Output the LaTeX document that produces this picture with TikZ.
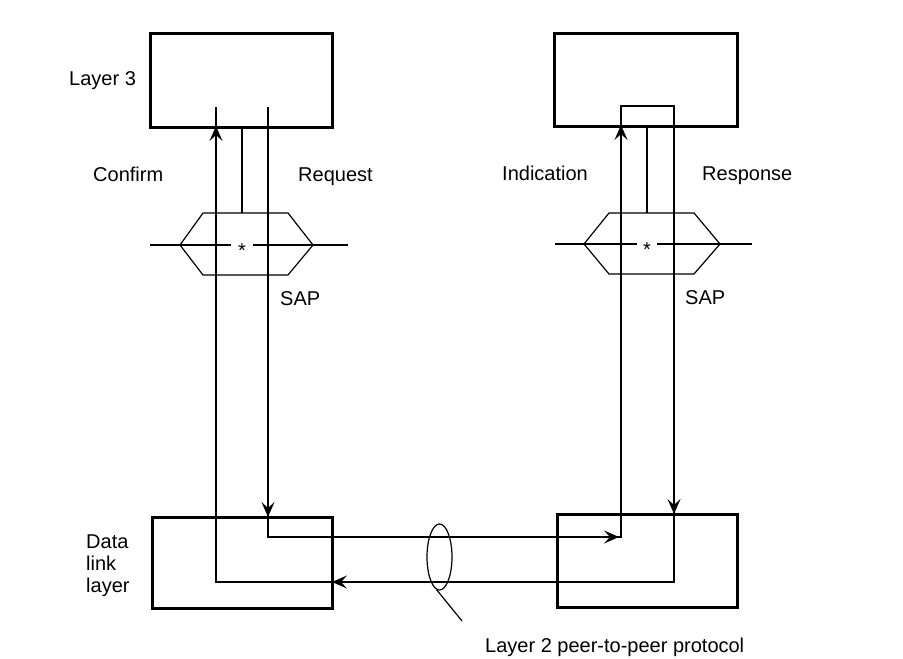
\documentclass[tikz,border=0pt]{standalone}
\usepackage{fontspec}
\setmainfont{Liberation Sans}
\usetikzlibrary{arrows.meta,shapes.geometric}
\begin{document}
\begin{tikzpicture}[x=1pt,y=-1pt,
  thickbox/.style={draw,line width=3pt,inner sep=0pt,rectangle},
  wire/.style={line width=1.2pt,line join=miter},
  arr/.style={line width=1.2pt,-{Stealth[length=15pt,width=13pt,inset=6pt]}},
  lbl/.style={font=\fontsize{20}{24}\selectfont,inner sep=0pt,anchor=base west},
  star/.style={font=\fontsize{20}{24}\selectfont,inner sep=0pt,anchor=base}]
\useasboundingbox[fill=white] (0,0) rectangle (903,659);

% boxes
\node[thickbox,minimum width=182pt,minimum height=94pt] (tl) at (241,80) {};
\node[thickbox,minimum width=183pt,minimum height=93pt] (tr) at (645.5,79.5) {};
\node[thickbox,minimum width=180pt,minimum height=91pt] (bl) at (242,562.5) {};
\node[thickbox,minimum width=180pt,minimum height=93pt] (br) at (647,560.5) {};

% main loop
\coordinate (p1) at (268,107);
\coordinate (p2) at (268,537);
\coordinate (p3) at (621,537);
\coordinate (p4) at (621,106);
\coordinate (p5) at (674,106);
\coordinate (p6) at (674,582);
\coordinate (p7) at (216,582);
\coordinate (p8) at (216,107);
\draw[wire] (p1) -- (p2) -- (p3) -- (p4) -- (p5) -- (p6) -- (p7) -- (p8);

% arrow heads
\coordinate (a1s) at (216,150); \coordinate (a1e) at (216,126);
\coordinate (a2s) at (268,492); \coordinate (a2e) at (268,517);
\coordinate (a3s) at (594,537); \coordinate (a3e) at (619,537);
\coordinate (a4s) at (621,149); \coordinate (a4e) at (621,125);
\coordinate (a5s) at (674,489); \coordinate (a5e) at (674,514);
\coordinate (a6s) at (357,582); \coordinate (a6e) at (332,582);
\draw[arr] (a1s) -- (a1e);
\draw[arr] (a2s) -- (a2e);
\draw[arr] (a3s) -- (a3e);
\draw[arr] (a4s) -- (a4e);
\draw[arr] (a5s) -- (a5e);
\draw[arr] (a6s) -- (a6e);

% SAP stems
\coordinate (s1t) at (242,127); \coordinate (s1b) at (242,213);
\coordinate (s2t) at (647,125); \coordinate (s2b) at (647,213);
\draw[wire] (s1t) -- (s1b);
\draw[wire] (s2t) -- (s2b);

% hexagons
\draw[wire] (203,213) -- (288,213) -- (313,245) -- (288,275) -- (203,275) -- (180,245) -- cycle;
\draw[wire] (609,213) -- (694,213) -- (720,244) -- (694,274) -- (609,274) -- (584,244) -- cycle;
\draw[wire] (150,245) -- (231,245);
\draw[wire] (253,245) -- (348,245);
\draw[wire] (555,244) -- (637,244);
\draw[wire] (657,244) -- (752,244);
\node[star] (st1) at (242,257) {*};
\node[star] (st2) at (647,256) {*};

% ellipse and leader
\node[ellipse,draw,line width=1.2pt,minimum width=25pt,minimum height=66pt,inner sep=0pt] (ell) at (439.5,557) {};
\coordinate (lead) at (462,621);
\draw[wire] (ell.-95) -- (lead);

% labels
\node[lbl] (t1) at (69,85.5) {Layer 3};
\node[lbl] (t2) at (93,181) {Confirm};
\node[lbl] (t3) at (298,181) {Request};
\node[lbl] (t4) at (502,180) {Indication};
\node[lbl] (t5) at (702,180) {Response};
\node[lbl] (t6) at (280,305) {SAP};
\node[lbl] (t7) at (685,304) {SAP};
\node[lbl] (t8) at (86,548) {Data};
\node[lbl] (t9) at (86,570) {link};
\node[lbl] (t10) at (86,592) {layer};
\node[lbl] (t11) at (485,652) {Layer 2 peer-to-peer protocol};
\end{tikzpicture}
\end{document}
